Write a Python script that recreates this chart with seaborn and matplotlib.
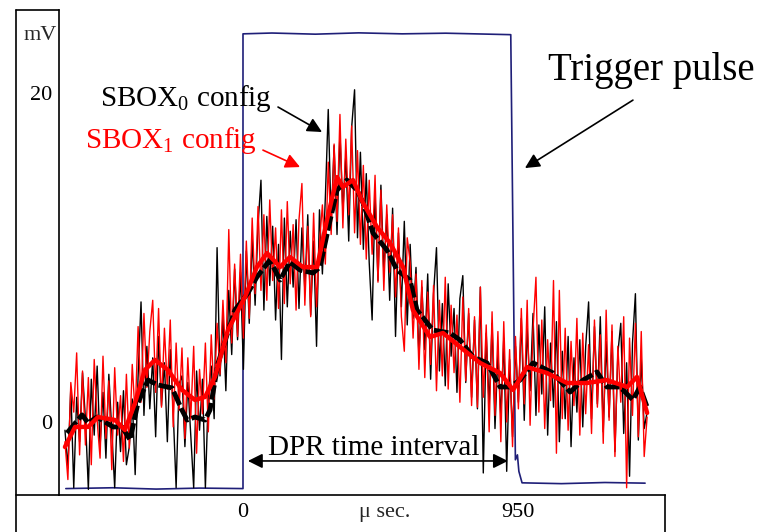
import matplotlib
matplotlib.use("Agg")
import matplotlib.pyplot as plt
from matplotlib.lines import Line2D
import seaborn as sns
import pandas as pd
import numpy as np

sns.set_theme(style="white")
plt.rcParams["font.family"] = ["Liberation Serif", "DejaVu Serif"]
plt.rcParams["mathtext.fontset"] = "custom"
plt.rcParams["mathtext.rm"] = "Liberation Serif"
plt.rcParams["mathtext.it"] = "Liberation Serif:italic"

# ---- data (time in us, amplitude in mV) ----
raw_t = np.linspace(-615, 1396, 200)   # sample clock of the raw traces

sbox0_raw = [
    -0.5, -2.8, 2.1, -4.0, 1.5, -1.2, 3.0, 0.2, -4.1, 2.6, -0.8, 3.4, -1.5, 1.8, -2.2, 2.9, -0.6, -4.0, 1.2, -1.8,
    1.9, -2.6, -1.5, 1.4, -3.2, 2.8, 7.3, 0.4, 4.6, 0.8, 3.9, -0.9, 5.2, 1.0, 3.6, -1.2, 4.4, 0.6, -4.0, 2.3,
    2.8, -1.5, 2.4, -0.8, -4.0, 3.1, -0.5, 2.6, -4.0, 1.7, 3.4, 0.2, 10.6, 2.8, 6.4, 1.9, 8.0, 4.1, 9.3, 5.0,
    9.1, 3.2, 10.4, 6.0, 11.2, 7.1, 12.0, 14.7, 6.8, 12.5, 8.3, 11.9, 6.2, 10.8, 3.8, 12.4, 7.0, 11.6, 8.2, 12.3,
    6.9, 11.8, 8.0, 12.6, 6.5, 11.0, 4.6, 12.9, 9.0, 13.6, 19.0, 12.1, 16.8, 11.4, 17.6, 12.8, 16.2, 11.0, 17.9, 20.2,
    11.2, 16.4, 10.5, 15.1, 9.7, 6.2, 13.8, 8.6, 14.4, 9.1, 12.6, 7.4, 13.0, 5.2, 11.5, 7.0, 12.2, 5.9, 10.8, 6.3,
    9.4, 3.9, 8.2, 4.4, 9.0, 2.6, 7.8, 10.6, 3.1, 7.2, 2.2, 8.4, 4.0, 6.9, 1.8, 7.5, 8.9, 2.4, 6.6, 1.5,
    6.2, 0.8, 8.2, -3.1, 5.4, 1.0, 6.0, -0.4, 4.2, 0.3, 5.1, -3.0, 3.8, -0.9, 4.6, 1.2, 6.3, 0.1, 5.7, 1.9,
    6.6, 0.4, 5.9, 1.7, 7.0, -0.8, 4.8, 0.9, 6.1, -1.2, 4.3, 0.2, 5.2, -1.5, 3.9, 0.6, 5.0, -0.3, 4.6, 7.3,
    0.2, 5.8, 1.1, 6.4, -0.6, 4.9, 0.3, 5.5, -1.8, 4.2, 6.0, -0.7, 3.6, -3.3, 4.8, 7.8, -1.1, 3.9, -0.4, 0.6,
]

sbox1_raw = [
    -1.2, -3.5, 2.4, 0.6, 4.2, -2.0, 3.1, -1.4, 2.7, -2.6, 3.8, 0.1, -2.2, 4.0, -1.0, 2.5, -2.9, 3.3, -0.8, 1.6,
    -2.4, 2.9, -1.6, 3.5, 0.4, 5.8, 1.2, 6.6, 2.1, 5.5, 7.4, 1.8, 6.9, 0.9, 5.7, 2.0, 6.2, -0.3, 4.8, 0.7,
    4.5, -1.0, 3.9, 0.2, 4.6, -1.9, 3.2, 0.5, 4.8, -0.6, 5.3, 1.4, 6.0, 2.9, 7.4, 3.6, 11.7, 4.8, 9.6, 5.2,
    10.2, 5.1, 11.0, 6.3, 12.4, 7.8, 13.1, 8.0, 12.6, 7.4, 13.5, 8.6, 11.8, 6.9, 12.9, 7.2, 13.4, 8.4, 12.0, 6.8,
    12.3, 14.5, 7.1, 11.9, 6.4, 12.7, 7.0, 10.9, 13.2, 9.6, 15.8, 11.4, 16.9, 12.2, 18.7, 11.8, 17.2, 12.6, 18.0, 11.5,
    16.5, 10.8, 15.6, 9.9, 14.7, 10.2, 15.0, 8.5, 14.1, 8.0, 13.2, 9.1, 12.6, 7.6, 11.8, 6.4, 4.3, 11.2, 9.7, 5.1,
    9.0, 3.2, 8.6, 2.7, 7.9, 3.5, 8.3, 1.9, 7.4, 2.8, 8.8, 2.0, 7.1, 3.0, 6.5, 1.2, 7.6, 2.5, 6.9, 1.0,
    6.4, 0.9, 8.2, 1.5, 5.9, -0.6, 6.7, 0.4, 5.5, -1.2, 6.1, 0.0, 4.4, -1.5, 5.2, 0.8, 6.9, 1.1, 7.4, -0.2,
    5.6, 8.8, 0.6, 6.2, -0.4, 5.0, 1.3, 8.6, -1.9, 8.0, 0.2, 5.7, -0.5, 4.9, 1.0, 6.3, -0.8, 5.4, 0.5, 4.7,
    -0.7, 6.2, 0.9, 5.3, -1.3, 6.8, 0.1, 5.9, -2.1, 4.6, 1.2, 6.4, -4.0, 5.1, 0.4, 6.0, -0.9, 5.5, -2.1, 0.3,
]

# smoothed (averaged) curves
sbox0_avg_t = [-608, -556, -535, -504, -449, -418, -390, -363, -328, -294, -245, -211, -193, -166, -131,
               -114, -86, -28, 17, 48, 93, 128, 162, 197, 242, 266, 301, 325, 359, 394, 415, 449, 497,
               532, 577, 601, 656, 715, 750, 795, 843, 888, 922, 957, 1002, 1071, 1130, 1175, 1223,
               1257, 1302, 1347, 1371, 1396]
sbox0_avg_v = [-0.67, 0.43, -0.06, 0.30, -0.30, -0.30, -1.09, 1.16, 2.55, 2.25, 2.07, 0.73, 0.12, 0.30,
               0.12, 0.73, 3.59, 6.81, 7.84, 8.81, 9.85, 8.63, 9.73, 9.24, 9.06, 9.42, 12.28, 14.10,
               14.71, 14.10, 13.31, 11.49, 10.46, 9.24, 8.63, 6.81, 5.59, 5.41, 4.98, 3.95, 3.59, 2.13,
               2.13, 2.55, 3.59, 2.98, 1.82, 2.55, 3.04, 2.13, 2.13, 1.34, 2.13, 0.91]

sbox1_avg_t = [-615, -580, -535, -501, -442, -408, -373, -339, -304, -259, -211, -166, -131, -97, -52,
               7, 48, 83, 128, 162, 207, 256, 290, 325, 345, 380, 415, 463, 508, 553, 587, 646, 691,
               750, 819, 888, 933, 981, 1050, 1119, 1188, 1257, 1327, 1361, 1396]
sbox1_avg_v = [-1.52, -0.30, -0.30, 0.30, 0.12, -0.49, 1.16, 3.16, 3.77, 3.16, 1.95, 1.34, 1.52, 2.74,
               5.59, 7.60, 9.42, 10.27, 9.42, 10.03, 9.42, 9.42, 12.28, 14.89, 14.29, 14.71, 13.31,
               11.85, 10.88, 9.42, 6.81, 5.17, 5.41, 4.56, 3.59, 2.98, 1.95, 3.34, 2.98, 2.37, 2.37,
               2.55, 2.13, 2.74, 0.55]

trig_t = [-612, -450, -300, -150, 0, 0, 100, 250, 400, 550, 700, 850, 925, 941, 948, 953, 964,
          1100, 1250, 1389]
trig_v = [-4.05, -4.0, -4.08, -4.02, -4.05, 23.6, 23.65, 23.58, 23.66, 23.6, 23.64, 23.58, 23.55,
          -2.3, -2.0, -3.0, -3.7, -3.75, -3.68, -3.72]

raw = pd.DataFrame({"t": raw_t, "sbox0": sbox0_raw, "sbox1": sbox1_raw})
avg0 = pd.DataFrame({"t": sbox0_avg_t, "v": sbox0_avg_v})
avg1 = pd.DataFrame({"t": sbox1_avg_t, "v": sbox1_avg_v})
trig = pd.DataFrame({"t": trig_t, "v": trig_v})

W, H = 762, 532
fig = plt.figure(figsize=(W / 100, H / 100), dpi=100)
ax = fig.add_axes([59 / W, 37 / H, 606 / W, 485 / H])

sns.lineplot(data=trig, x="t", y="v", sort=False, estimator=None, color="#1f1f78", lw=1.2, ax=ax, zorder=1)
sns.lineplot(data=raw, x="t", y="sbox0", sort=False, estimator=None, color="black", lw=1.0, ax=ax, zorder=2)
sns.lineplot(data=raw, x="t", y="sbox1", sort=False, estimator=None, color="#ff0000", lw=1.0, ax=ax, zorder=3)
sns.lineplot(data=avg0, x="t", y="v", sort=False, estimator=None, color="black", lw=3.5,
             ls=(0, (3, 0.7)), ax=ax, zorder=4)
sns.lineplot(data=avg1, x="t", y="v", sort=False, estimator=None, color="#ff0000", lw=3.2, ax=ax, zorder=5)

ax.set_xlim(-635.6, 1457.8)
ax.set_ylim(-4.44, 25.05)
ax.set_xlabel("")
ax.set_ylabel("")
ax.set_xticks([0, 950])
ax.set_yticks([0, 20])
ax.tick_params(length=0, labelsize=16, colors="black")
ax.tick_params(axis="x", pad=6)
ax.tick_params(axis="y", pad=5)
for s in ["top", "right"]:
    ax.spines[s].set_visible(False)
for s in ["left", "bottom"]:
    ax.spines[s].set_color("black")
    ax.spines[s].set_linewidth(1.2)
ax.text(490, -0.017, "\u03bc sec.", transform=ax.get_xaxis_transform(), ha="center", va="top", fontsize=16)
fig.text(40 / W, 1 - 35 / H, "mV", ha="center", va="center", fontsize=16)


# frame lines around the label strips (pixel coords)
def frame(x0, y0, x1, y1):
    fig.add_artist(Line2D([x0 / W, x1 / W], [1 - y0 / H, 1 - y1 / H], transform=fig.transFigure,
                          color="black", lw=1.2))


frame(16, 10, 16, 532)
frame(16, 10, 59, 10)
frame(16, 495, 59, 495)
frame(665, 495, 665, 532)

# annotations
ax.text(-494, 19.2, "SBOX$_0$ config", fontsize=21, color="black", va="baseline")
ax.text(-546, 16.66, "SBOX$_1$ config", fontsize=21, color="#ff0000", va="baseline")
ax.text(1054, 20.8, "Trigger pulse", fontsize=28, color="black", va="baseline")
ax.text(86, -2.0, "DPR time interval", fontsize=21, color="black", va="baseline")

arrow = dict(arrowstyle="-|>", lw=1.2, mutation_scale=22, shrinkA=0, shrinkB=0)
ax.annotate("", xy=(273, 17.63), xytext=(121, 19.15), arrowprops=dict(arrow, color="black"))
ax.annotate("", xy=(197, 15.5), xytext=(69, 16.53), arrowprops=dict(arrow, color="#ff0000"))
ax.annotate("", xy=(974, 15.44), xytext=(1347, 19.57), arrowprops=dict(arrow, color="black"))
ax.annotate("", xy=(915, -2.37), xytext=(17, -2.37),
            arrowprops=dict(arrow, arrowstyle="<|-|>", color="black"))

fig.savefig("out.png", dpi=100)
